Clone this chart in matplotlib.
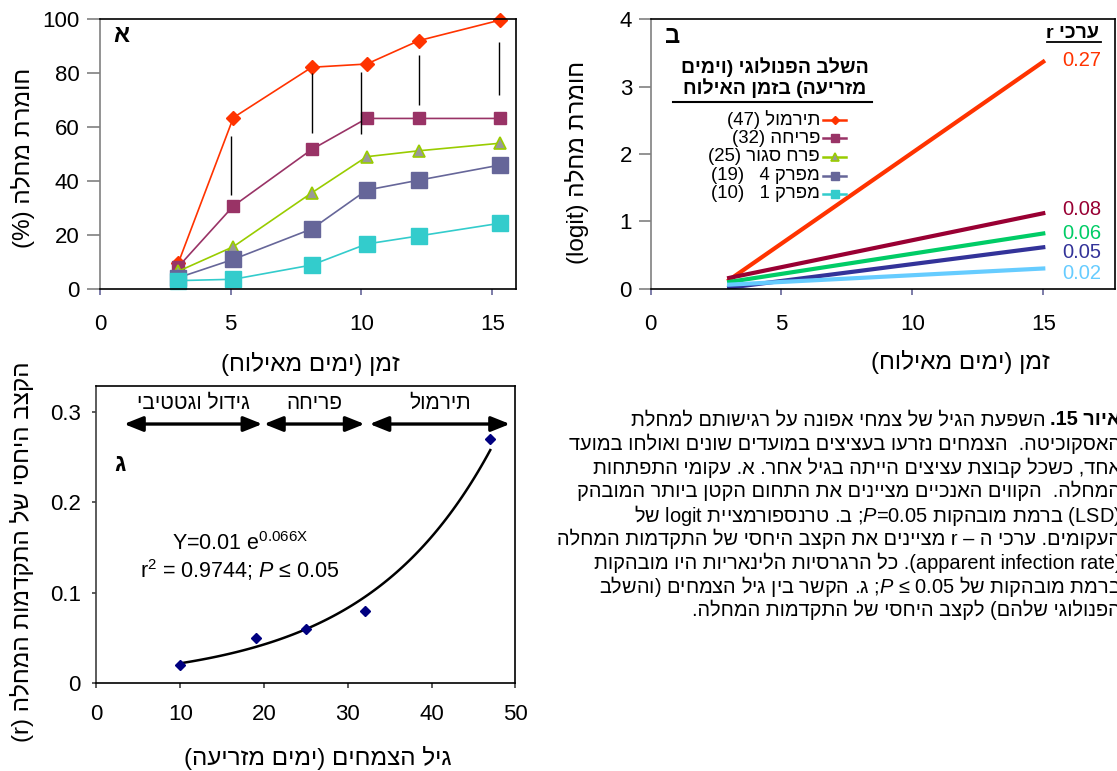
import re
import numpy as np
import matplotlib
matplotlib.use("Agg")
import matplotlib.pyplot as plt
from matplotlib.lines import Line2D

plt.rcParams['font.family'] = ['Liberation Sans', 'DejaVu Sans']
plt.rcParams['mathtext.fontset'] = 'custom'
plt.rcParams['mathtext.rm'] = 'Liberation Sans'
plt.rcParams['mathtext.it'] = 'Liberation Sans:italic'
plt.rcParams['mathtext.bf'] = 'Liberation Sans:bold'

# --- data -------------------------------------------------------------
# panel A: disease severity (%) by days after inoculation
days = [3, 5.1, 8.1, 10.2, 12.2, 15.3]
sev_pod = [9.7, 63.5, 82.2, 83.4, 92.1, 99.7]
sev_flower = [8.2, 30.7, 51.7, 63.2, 63.2, 63.2]
sev_bud = [6.5, 15.6, 35.6, 49.0, 51.2, 54.0]
sev_node4 = [4.1, 10.9, 22.2, 36.6, 40.3, 45.9]
sev_node1 = [3.0, 3.5, 8.8, 16.6, 19.6, 24.3]

# LSD bars
lsd_day = [5.0, 8.1, 10.0, 12.2, 15.25]
lsd_top = [56.7, 80.0, 80.6, 86.7, 91.7]
lsd_bottom = [34.7, 57.7, 57.4, 68.2, 71.9]

# phenological stage at inoculation and plant age (days from sowing)
legend_labels = ['תירמול (47)', 'פריחה (32)', 'פרח סגור (25)',
                 'מפרק 4   (19)', 'מפרק 1   (10)']
plant_age = [47, 32, 25, 19, 10]

# panel B: logit regressions, slope r and value at day 15
r_values = [0.27, 0.08, 0.06, 0.05, 0.02]
logit_end = [3.37, 1.12, 0.82, 0.615, 0.30]
reg_start, reg_end = 3, 15

# panel C: stages along the plant age axis
stage_names = ['גידול וגטטיבי', 'פריחה', 'תירמול']
stage_from = [3.3, 20.0, 32.6]
stage_to = [19.8, 32.0, 49.35]

caption = [
    "השפעת הגיל של צמחי אפונה על רגישותם למחלת",
    "האסקוכיטה.  הצמחים נזרעו בעציצים במועדים שונים ואולחו במועד",
    "אחד, כשכל קבוצת עציצים הייתה בגיל אחר. א. עקומי התפתחות",
    "המחלה.  הקווים האנכיים מציינים את התחום הקטן ביותר המובהק",
    "(LSD) ברמת מובהקות P=0.05; ב. טרנספורמציית logit של",
    "העקומים. ערכי ה – r מציינים את הקצב היחסי של התקדמות המחלה",
    "(apparent infection rate). כל הרגרסיות הלינאריות היו מובהקות",
    "ברמת מובהקות של P ≤ 0.05; ג. הקשר בין גיל הצמחים (והשלב",
    "הפנולוגי שלהם) לקצב היחסי של התקדמות המחלה.",
]

# --- helpers ----------------------------------------------------------
W, H = 1117, 771
MIRROR = {'(': ')', ')': '('}
TICK_FS = 16
LABEL_FS = 17.5


def rtl(s):
    # visual order for a right-to-left line; latin/digit runs keep their order
    parts = re.findall(r"[A-Za-z0-9][A-Za-z0-9 .,=%:≤\-]*[A-Za-z0-9]|.", s)
    return ''.join(MIRROR.get(p, p) for p in reversed(parts))


def px(x, y):
    return x / W, 1 - y / H


def add_ax(l, t, r, b):
    return fig.add_axes([l / W, 1 - b / H, (r - l) / W, (b - t) / H])


def style(ax, ylen, ypad, xlen, xpad, ycol, xcol):
    for s in ax.spines.values():
        s.set_linewidth(1.2)
        s.set_color('black')
    ax.spines['left'].set_color(ycol)
    ax.tick_params(axis='y', direction='out', length=ylen, pad=ypad,
                   color=ycol, width=1.2, labelsize=TICK_FS)
    ax.tick_params(axis='x', direction='out', length=xlen, pad=xpad,
                   color=xcol, width=1.2, labelsize=TICK_FS)


fig = plt.figure(figsize=(W / 100, H / 100), dpi=100)

colors_a = ['#FF3300', '#993366', '#99CC00', '#666699', '#33CCCC']
markers_a = [dict(marker='D', ms=6.8, mfc='#FF3300', mec='#FF3300'),
             dict(marker='s', ms=8.9, mfc='#993366', mec='#993366'),
             dict(marker='^', ms=9.2, mfc='#999999', mec='#99CC00', mew=1.2),
             dict(marker='s', ms=12, mfc='#666699', mec='#666699'),
             dict(marker='s', ms=12, mfc='#33CCCC', mec='#33CCCC')]

# --- panel A ----------------------------------------------------------
axA = add_ax(100, 19.3, 516, 288.7)
series = [sev_pod, sev_flower, sev_bud, sev_node4, sev_node1]
for vals, c, mk in zip(series, colors_a, markers_a):
    axA.plot(days, vals, color=c, lw=1.2, clip_on=False, **mk)
axA.vlines(lsd_day, lsd_bottom, lsd_top, color='black', lw=1.0)
axA.set_xlim(0, 15.91)
axA.set_ylim(0, 100)
axA.set_xticks([0, 5, 10, 15])
axA.set_yticks([0, 20, 40, 60, 80, 100])
style(axA, 9.6, 5, 4.3, 14, '#808080', '#666699')
fig.text(*px(121.7, 35), rtl('א'), fontsize=17, fontweight='bold',
         ha='center', va='center')
fig.text(*px(310, 364), rtl('זמן (ימים מאילוח)'), fontsize=LABEL_FS,
         ha='center', va='center')
fig.text(*px(23, 158), rtl('חומרת מחלה (%)'), fontsize=LABEL_FS, rotation=90,
         ha='center', va='center')

# --- panel B ----------------------------------------------------------
axB = add_ax(650.6, 19.3, 1115, 288.7)
colors_b = ['#FF3300', '#990033', '#00CC66', '#333399', '#66CCFF']
xr = np.array([reg_start, reg_end])
for r, yend, c in zip(r_values, logit_end, colors_b):
    axB.plot(xr, yend - r * (reg_end - xr), color=c, lw=3)
axB.set_xlim(0, 17.74)
axB.set_ylim(0, 4)
axB.set_xticks([0, 5, 10, 15])
axB.set_yticks([0, 1, 2, 3, 4])
style(axB, 8.4, 5, 4.3, 14, '#808080', '#666699')

label_y = [61, 209.3, 233.3, 252.3, 273.3]
for r, c, y in zip(r_values, colors_b, label_y):
    fig.text(*px(1101, y), f'{r:.2f}', color=c, fontsize=14.5,
             ha='right', va='center')
fig.text(*px(1073, 33), rtl('ערכי r'), fontsize=14, fontweight='bold',
         ha='center', va='center')
fig.add_artist(Line2D([1047 / W, 1101 / W], [1 - 42.3 / H] * 2,
                      color='black', lw=1.3))
fig.text(*px(672.3, 36.7), rtl('ב'), fontsize=17, fontweight='bold',
         ha='center', va='center')

# legend drawn by hand, text on the left of the keys
fig.text(*px(775, 66.7), rtl('השלב הפנולוגי (וימים'), fontsize=14,
         fontweight='bold', ha='center', va='center')
fig.text(*px(775, 88.3), rtl('מזריעה) בזמן האילוח'), fontsize=14,
         fontweight='bold', ha='center', va='center')
fig.add_artist(Line2D([673 / W, 872 / W], [1 - 102 / H] * 2,
                      color='black', lw=1.5))
row_y = [120, 138.3, 156.7, 175.7, 194]
for lab, c, mk, y in zip(legend_labels, colors_a, markers_a, row_y):
    fig.text(*px(820, y), rtl(lab), fontsize=13.4, ha='right', va='center')
    yy = 1 - y / H
    fig.add_artist(Line2D([823 / W, 846 / W], [yy, yy], color=c, lw=1.8))
    small = dict(mk)
    small['ms'] = 5.5 if mk['marker'] != 'D' else 4
    fig.add_artist(Line2D([834.5 / W], [yy], color=c, **small))

fig.text(*px(960, 362), rtl('זמן (ימים מאילוח)'), fontsize=LABEL_FS,
         ha='center', va='center')
fig.text(*px(577, 162.5), rtl('חומרת מחלה (logit)'), fontsize=LABEL_FS,
         rotation=90, ha='center', va='center')

# --- panel C ----------------------------------------------------------
axC = add_ax(96.4, 385.7, 515.4, 683.3)
age = np.array(plant_age[::-1])
rate = np.array(r_values[::-1])
k, lna = np.polyfit(age, np.log(rate), 1)
xs = np.linspace(age.min(), age.max(), 100)
axC.plot(xs, np.exp(lna) * np.exp(k * xs), color='black', lw=1.8)
axC.plot(age, rate, ls='none', marker='D', ms=5.5, color='#000080')
axC.set_xlim(0, 50)
axC.set_ylim(0, 0.3285)
axC.set_xticks([0, 10, 20, 30, 40, 50])
axC.set_yticks([0, 0.1, 0.2, 0.3])
axC.set_yticklabels(['0', '0.1', '0.2', '0.3'])
style(axC, 3.2, 8, 3.6, 11.5, '#404040', '#404040')

for name, a0, a1 in zip(stage_names, stage_from, stage_to):
    axC.annotate('', xy=(a1, 0.2862), xytext=(a0, 0.2862),
                 arrowprops=dict(arrowstyle='<|-|>,head_length=0.45,head_width=0.18',
                                 color='black', lw=2.4, mutation_scale=25,
                                 shrinkA=0, shrinkB=0),
                 annotation_clip=False)
    axC.text((a0 + a1) / 2, 0.309, rtl(name), fontsize=15, ha='center',
             va='center')
axC.text(2.77, 0.241, rtl('ג'), fontsize=17, fontweight='bold',
         ha='center', va='center')
axC.text(17.1, 0.1538, r'Y=0.01 e$^{\mathrm{0.066X}}$', fontsize=15.5,
         ha='center', va='center')
axC.text(17.1, 0.125, r'r$^{2}$ = 0.9744; $\mathit{P}$ ≤ 0.05', fontsize=15.5,
         ha='center', va='center')
fig.text(*px(318, 758), rtl('גיל הצמחים (ימים מזריעה)'), fontsize=LABEL_FS,
         ha='center', va='center')
fig.text(*px(22, 551.7), rtl('הקצב היחסי של התקדמות המחלה (r)'),
         fontsize=LABEL_FS, rotation=90, ha='center', va='center')

# --- caption ----------------------------------------------------------
renderer = fig.canvas.get_renderer()
cap_right = 1121
for i, line in enumerate(caption):
    y = 420 + i * 23.75
    s = rtl(line).replace('P', r'$\mathit{P}$')
    if i == 0:
        t = fig.text(*px(cap_right, y), rtl('איור 15.'), fontsize=14.4,
                     fontweight='bold', ha='right', va='center')
        bb = t.get_window_extent(renderer)
        fig.text(*px(bb.x0 - 5, y), s, fontsize=14.4, ha='right', va='center')
    else:
        fig.text(*px(cap_right, y), s, fontsize=14.4, ha='right', va='center')

fig.savefig('out.png', dpi=100)
